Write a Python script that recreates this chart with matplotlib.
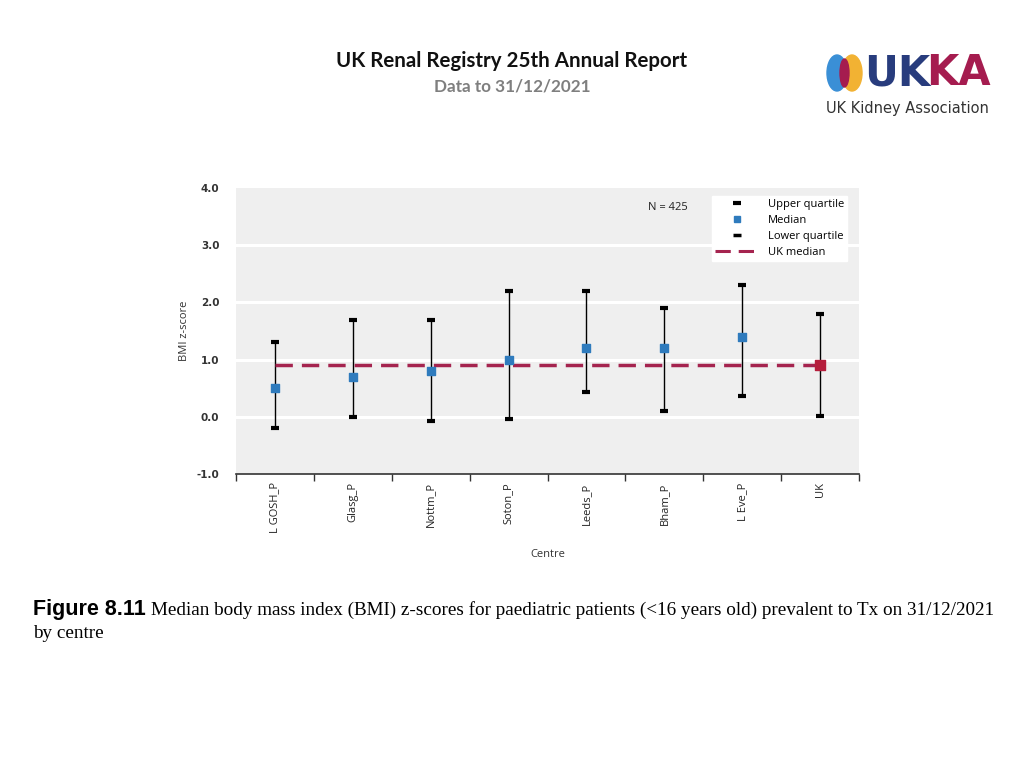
import matplotlib
matplotlib.use("Agg")
import matplotlib.pyplot as plt
from matplotlib.patches import Ellipse
from matplotlib.lines import Line2D
import numpy as np

centres = ["L GOSH_P", "Glasg_P", "Nottm_P", "Soton_P", "Leeds_P", "Bham_P", "L Eve_P", "UK"]
median = [0.5, 0.7, 0.8, 1.0, 1.2, 1.2, 1.4, 0.9]
lower_q = [-0.2, 0.0, -0.08, -0.04, 0.43, 0.1, 0.37, 0.01]
upper_q = [1.3, 1.7, 1.7, 2.2, 2.2, 1.9, 2.3, 1.8]
uk_median = 0.9
n_patients = 425
yticks = [-1.0, 0.0, 1.0, 2.0, 3.0, 4.0]

fig = plt.figure(figsize=(10.24, 7.68), dpi=100)
fig.patch.set_facecolor("white")

# Header
fig.text(0.5, 1 - 61/768, "UK Renal Registry 25th Annual Report", ha="center", va="center",
         fontsize=14.8, fontweight="bold", family="Lato", color="#111111")
fig.text(0.5, 1 - 86/768, "Data to 31/12/2021", ha="center", va="center",
         fontsize=12.3, fontweight="bold", family="Lato", color="#7f7f7f")

# Logo
lax = fig.add_axes([800/1024, 1 - 125/768, 200/1024, 90/768])
lax.set_xlim(0, 200); lax.set_ylim(0, 90); lax.axis("off")
lax.add_patch(Ellipse((37, 52), 20, 36, color="#3a8fd6"))
lax.add_patch(Ellipse((52, 52), 20, 36, color="#f2b233"))
lax.add_patch(Ellipse((44.5, 52), 9, 28, color="#a51c4f"))
lax.text(64, 52, "UK", fontsize=30, fontweight="bold", family="DejaVu Sans", color="#283c7d", va="center", ha="left")
lax.text(126, 52, "KA", fontsize=30, fontweight="bold", family="DejaVu Sans", color="#a51c4f", va="center", ha="left")
lax.text(26, 17, "UK Kidney Association", fontsize=10.5, family="DejaVu Sans", color="#333333", va="center", ha="left")

# Main axes
ax = fig.add_axes([236/1024, 1 - 474/768, 623/1024, 286/768])
ax.set_facecolor("#efefef")
x = np.arange(len(centres))
ax.set_xlim(-0.5, len(centres) - 0.5)
ax.set_ylim(-1.0, 4.0)
for yv in yticks[1:-1]:
    ax.axhline(yv, color="white", lw=2.2, zorder=1)

ax.vlines(x, lower_q, upper_q, color="black", lw=1.0, zorder=3)
ax.scatter(x, upper_q, marker="_", s=40, linewidths=3, color="black", zorder=4)
ax.scatter(x, lower_q, marker="_", s=40, linewidths=3, color="black", zorder=4)
ax.plot([x[0], x[-1]], [uk_median, uk_median], color="#a5244f", lw=2.5, ls=(0, (5, 2.6)), zorder=5)
ax.scatter(x[:-1], median[:-1], marker="s", s=28, color="#2f7bbd", zorder=6)
ax.scatter(x[-1:], median[-1:], marker="s", s=50, color="#b51e3c", zorder=6)

ax.set_yticks(yticks)
ax.set_yticklabels([f"{v:.1f}" for v in yticks], fontsize=7.5, fontweight="bold", color="#333333")
ax.tick_params(axis="y", length=0, pad=12)
ax.set_xticks(np.arange(len(centres) + 1) - 0.5, minor=False)
ax.set_xticklabels([])
ax.tick_params(axis="x", length=5, width=1, color="#333333", direction="out")
ax.set_xticks(x, minor=True)
ax.set_xticklabels(centres, minor=True, rotation=90, fontsize=8, color="#222222", family="Open Sans")
ax.tick_params(axis="x", which="minor", length=0, pad=6)
for s in ["top", "right", "left"]:
    ax.spines[s].set_visible(False)
ax.spines["bottom"].set_color("#333333")
ax.spines["bottom"].set_linewidth(1.2)
ax.set_ylabel("BMI z-score", fontsize=8, color="#333333", labelpad=5, family="Open Sans")
ax.set_xlabel("Centre", fontsize=8, color="#333333", labelpad=11, family="Open Sans")

ax.text(0.662, 0.933, f"N = {n_patients}", transform=ax.transAxes, fontsize=8, color="#222222",
        ha="left", va="center", family="Open Sans")

handles = [
    Line2D([], [], marker="_", ls="none", color="black", markersize=6, markeredgewidth=3),
    Line2D([], [], marker="s", ls="none", color="#2f7bbd", markersize=5),
    Line2D([], [], marker="_", ls="none", color="black", markersize=6, markeredgewidth=2.5),
    Line2D([], [], color="#a5244f", lw=2.2, ls=(0, (5, 2.6))),
]
leg = ax.legend(handles, ["Upper quartile", "Median", "Lower quartile", "UK median"],
                loc="upper right", bbox_to_anchor=(0.99, 0.99), frameon=True, fancybox=False,
                handlelength=4, labelspacing=0.45, borderpad=0.25,
                prop={"family": "Open Sans", "size": 8})
leg.get_frame().set_edgecolor("white")
leg.get_frame().set_facecolor("white")
leg.get_frame().set_alpha(1)

# Caption
fig.canvas.draw()
r = fig.canvas.get_renderer()
t1 = fig.text(33/1024, 1 - 610/768, "Figure 8.11", fontsize=15.5, fontweight="bold",
              family="Liberation Sans", color="black", va="center", ha="left")
bb = t1.get_window_extent(renderer=r)
fig.text((bb.x1 + 5)/1024, 1 - 610/768,
         "Median body mass index (BMI) z-scores for paediatric patients (<16 years old) prevalent to Tx on 31/12/2021",
         fontsize=13.8, family="Liberation Serif", color="black", va="center", ha="left")
fig.text(33/1024, 1 - 634/768, "by centre", fontsize=13.8, family="Liberation Serif",
         color="black", va="center", ha="left")

fig.savefig("out.png", dpi=100)
